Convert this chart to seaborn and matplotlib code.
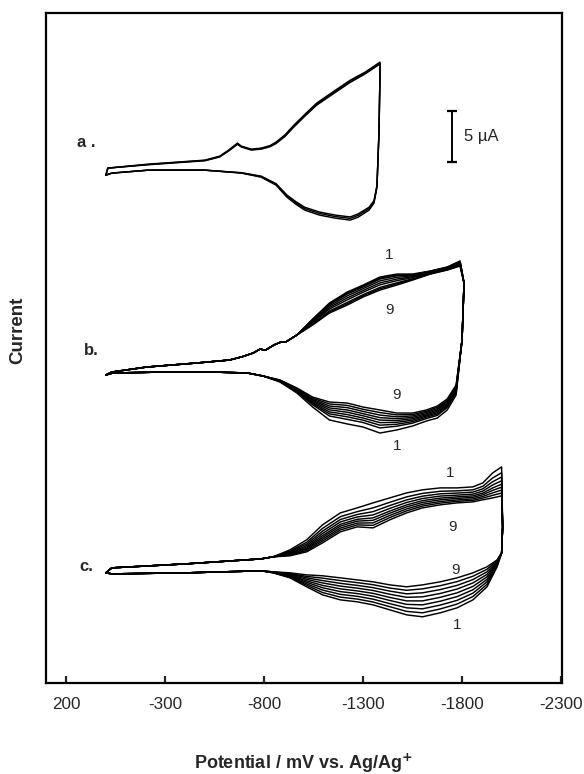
import matplotlib
matplotlib.use("Agg")
import matplotlib.pyplot as plt
import seaborn as sns
import pandas as pd

# ---------------- data (potential in mV, current in uA) ----------------
tick_values = [200, -300, -800, -1300, -1800, -2300]
tick_labels = ["200", "-300", "-800", "-1300", "-1800", "-2300"]

# display offsets of the three voltammograms (uA)
offset_a = 49.8
offset_b = 30.2
offset_c = 10.8

# ---- panel a : 3 cycles, switching at about -1385 mV
a_fwd_E = [0, -10, -215, -500, -575, -620, -665, -685, -735, -785, -830, -860, -905, -950,
           -1005, -1065, -1160, -1235, -1310, -1385]
a_fwd_I = [
    [0, 0.69, 1.08, 1.47, 1.86, 2.45, 3.14, 2.84, 2.55, 2.65, 2.90, 3.24, 3.95, 4.90, 5.95, 7.06, 8.33, 9.31, 10.10, 11.08],
    [0, 0.69, 1.05, 1.44, 1.82, 2.40, 3.08, 2.80, 2.50, 2.60, 2.84, 3.16, 3.86, 4.80, 5.85, 6.95, 8.22, 9.20, 10.00, 10.98],
    [0, 0.69, 1.02, 1.41, 1.78, 2.36, 3.02, 2.76, 2.46, 2.55, 2.79, 3.10, 3.79, 4.72, 5.77, 6.86, 8.12, 9.10, 9.92, 10.90],
]
a_rev_E = [-1385, -1380, -1370, -1355, -1330, -1275, -1235, -1160, -1080, -1005, -960, -915,
           -860, -785, -685, -500, -215, -30, 0]
a_rev_I = [
    [9.61, 4.12, -1.18, -2.75, -3.43, -4.12, -4.41, -4.22, -3.92, -3.43, -2.85, -2.16, -0.98, -0.20, 0.20, 0.49, 0.49, 0.20, 0],
    [9.50, 4.05, -1.10, -2.62, -3.28, -3.95, -4.24, -4.06, -3.76, -3.28, -2.72, -2.05, -0.90, -0.15, 0.22, 0.49, 0.49, 0.20, 0],
    [9.40, 4.00, -1.02, -2.50, -3.15, -3.80, -4.10, -3.92, -3.62, -3.15, -2.60, -1.95, -0.83, -0.10, 0.24, 0.49, 0.49, 0.20, 0],
]

# ---- panel b : 9 cycles, switching at about -1800 mV
b_pre_E = [0, -30, -205, -460, -625, -690, -745, -780, -805, -850, -880, -910]
b_pre_I = [0, 0.29, 0.78, 1.18, 1.47, 1.80, 2.16, 2.55, 2.42, 2.95, 3.20, 3.25]
b_fwd_E = [-965, -1045, -1130, -1220, -1300, -1385, -1470, -1550, -1640, -1725, -1790]
b_fwd_I = [
    [3.92, 5.49, 7.06, 8.14, 8.82, 9.61, 9.90, 9.90, 10.20, 10.59, 11.18],
    [3.92, 5.44, 6.98, 8.04, 8.73, 9.51, 9.81, 9.85, 10.18, 10.57, 11.14],
    [3.92, 5.40, 6.90, 7.94, 8.63, 9.41, 9.73, 9.81, 10.15, 10.54, 11.10],
    [3.92, 5.31, 6.77, 7.76, 8.47, 9.23, 9.58, 9.72, 10.11, 10.50, 11.03],
    [3.92, 5.22, 6.62, 7.56, 8.29, 9.03, 9.41, 9.63, 10.07, 10.46, 10.96],
    [3.92, 5.14, 6.47, 7.37, 8.12, 8.84, 9.25, 9.55, 10.02, 10.41, 10.89],
    [3.92, 5.02, 6.28, 7.12, 7.88, 8.59, 9.04, 9.43, 9.96, 10.35, 10.79],
    [3.92, 4.96, 6.18, 6.99, 7.77, 8.46, 8.93, 9.37, 9.93, 10.32, 10.74],
    [3.92, 4.90, 6.08, 6.86, 7.65, 8.33, 8.82, 9.31, 9.90, 10.29, 10.69],
]
b_turn_E = [-1810, -1800]
b_turn_I = [9.02, 3.43]
b_rev_E = [-1770, -1725, -1675, -1620, -1550, -1470, -1385, -1300, -1220, -1130,
           -1045, -965, -880, -795]
b_rev_I = [
    [-1.96, -3.43, -4.22, -4.51, -5.00, -5.39, -5.69, -5.10, -4.80, -4.41, -3.14, -1.76, -0.69, -0.10],
    [-1.74, -3.19, -3.96, -4.27, -4.72, -5.02, -5.19, -4.66, -4.35, -4.02, -2.92, -1.65, -0.65, -0.10],
    [-1.63, -3.06, -3.82, -4.14, -4.57, -4.83, -4.92, -4.43, -4.10, -3.81, -2.81, -1.59, -0.62, -0.10],
    [-1.52, -2.94, -3.69, -4.02, -4.43, -4.64, -4.67, -4.22, -3.88, -3.62, -2.70, -1.54, -0.60, -0.10],
    [-1.41, -2.83, -3.56, -3.91, -4.29, -4.46, -4.42, -4.00, -3.65, -3.42, -2.59, -1.49, -0.58, -0.10],
    [-1.30, -2.71, -3.43, -3.79, -4.15, -4.28, -4.18, -3.79, -3.43, -3.23, -2.48, -1.43, -0.56, -0.10],
    [-1.20, -2.59, -3.30, -3.67, -4.01, -4.10, -3.93, -3.57, -3.20, -3.04, -2.38, -1.38, -0.53, -0.10],
    [-1.09, -2.47, -3.17, -3.55, -3.87, -3.91, -3.68, -3.36, -2.98, -2.84, -2.27, -1.32, -0.51, -0.10],
    [-0.98, -2.35, -3.04, -3.43, -3.73, -3.73, -3.43, -3.14, -2.75, -2.65, -2.16, -1.27, -0.49, -0.10],
]
b_tail_E = [-715, -540, -290, -35, 0]
b_tail_I = [0.20, 0.29, 0.29, 0.20, 0]

# ---- panel c : 9 cycles, switching at about -2000 mV
c_pre_E = [0, -30, -405, -785, -845]
c_pre_I = [0, 0.49, 0.88, 1.37, 1.57]
c_fwd_E = [-930, -1015, -1095, -1185, -1270, -1350, -1435, -1520, -1600, -1690,
           -1775, -1855, -1905, -1955, -2000]
c_fwd_I = [
    [2.25, 3.24, 4.71, 5.88, 6.37, 6.86, 7.35, 7.84, 8.14, 8.33, 8.33, 8.43, 8.82, 9.80, 10.39],
    [2.13, 3.00, 4.36, 5.51, 6.00, 6.37, 6.92, 7.45, 7.79, 8.00, 8.04, 8.14, 8.49, 9.31, 9.82],
    [2.05, 2.83, 4.09, 5.23, 5.72, 6.00, 6.60, 7.15, 7.52, 7.75, 7.82, 7.92, 8.24, 8.94, 9.40],
    [1.97, 2.67, 3.86, 4.99, 5.48, 5.68, 6.32, 6.90, 7.29, 7.53, 7.62, 7.72, 8.02, 8.62, 9.03],
    [1.90, 2.53, 3.65, 4.76, 5.25, 5.39, 6.06, 6.66, 7.08, 7.33, 7.45, 7.55, 7.82, 8.33, 8.69],
    [1.84, 2.41, 3.47, 4.58, 5.07, 5.15, 5.85, 6.47, 6.90, 7.17, 7.30, 7.40, 7.66, 8.09, 8.40],
    [1.79, 2.30, 3.29, 4.39, 4.88, 4.90, 5.63, 6.27, 6.72, 7.00, 7.15, 7.25, 7.49, 7.84, 8.12],
    [1.73, 2.18, 3.12, 4.21, 4.70, 4.66, 5.42, 6.08, 6.55, 6.84, 7.01, 7.11, 7.33, 7.60, 7.83],
    [1.67, 2.06, 2.94, 4.02, 4.51, 4.41, 5.20, 5.88, 6.37, 6.67, 6.86, 6.96, 7.16, 7.35, 7.55],
]
c_turn_E = [-2005, -2000]
c_turn_I = [4.51, 1.96]
c_rev_E = [-1977, -1926, -1855, -1775, -1690, -1600, -1520, -1435, -1350, -1270,
           -1185, -1095, -1015, -930, -845]
c_rev_I = [
    [0.59, -1.37, -2.65, -3.43, -3.92, -4.31, -4.12, -3.63, -3.14, -2.84, -2.65, -2.16, -1.37, -0.49, 0.00],
    [0.68, -1.13, -2.32, -3.06, -3.54, -3.92, -3.78, -3.32, -2.86, -2.57, -2.38, -1.93, -1.22, -0.43, 0.01],
    [0.76, -0.88, -1.99, -2.70, -3.16, -3.53, -3.43, -3.02, -2.58, -2.30, -2.11, -1.69, -1.08, -0.37, 0.03],
    [0.85, -0.64, -1.66, -2.33, -2.78, -3.14, -3.09, -2.71, -2.29, -2.03, -1.84, -1.46, -0.93, -0.31, 0.04],
    [0.93, -0.39, -1.33, -1.96, -2.40, -2.75, -2.75, -2.41, -2.01, -1.77, -1.57, -1.23, -0.79, -0.25, 0.05],
    [1.02, -0.15, -0.99, -1.59, -2.02, -2.35, -2.40, -2.10, -1.73, -1.50, -1.30, -0.99, -0.64, -0.18, 0.06],
    [1.10, 0.10, -0.66, -1.23, -1.64, -1.96, -2.06, -1.79, -1.45, -1.23, -1.03, -0.76, -0.49, -0.12, 0.08],
    [1.19, 0.35, -0.33, -0.86, -1.26, -1.57, -1.71, -1.49, -1.16, -0.96, -0.76, -0.52, -0.35, -0.06, 0.09],
    [1.27, 0.59, 0.00, -0.49, -0.88, -1.18, -1.37, -1.18, -0.88, -0.69, -0.49, -0.29, -0.20, 0.00, 0.10],
]
c_tail_E = [-785, -405, -30, 0]
c_tail_I = [0.20, 0.00, -0.10, 0]

# ---------------- assemble traces ----------------
rows = []


def add_trace(name, E, I, off):
    for k, (e, i) in enumerate(zip(E, I)):
        rows.append({"trace": name, "order": k, "E": e, "I": i + off})


for k in range(len(a_fwd_I)):
    add_trace(f"a{k+1}", a_fwd_E + a_rev_E, a_fwd_I[k] + a_rev_I[k], offset_a)
for k in range(len(b_fwd_I)):
    add_trace(f"b{k+1}",
              b_pre_E + b_fwd_E + b_turn_E + b_rev_E + b_tail_E,
              b_pre_I + b_fwd_I[k] + b_turn_I + b_rev_I[k] + b_tail_I, offset_b)
for k in range(len(c_fwd_I)):
    add_trace(f"c{k+1}",
              c_pre_E + c_fwd_E + c_turn_E + c_rev_E + c_tail_E,
              c_pre_I + c_fwd_I[k] + c_turn_I + c_rev_I[k] + c_tail_I, offset_c)

df = pd.DataFrame(rows)

# ---------------- plot ----------------
sns.set_style("white")
FONT = ["Liberation Sans", "DejaVu Sans"]
plt.rcParams["font.family"] = FONT

fig = plt.figure(figsize=(5.84, 7.74), dpi=100)
ax = fig.add_axes([0.0796, 0.1176, 0.8827, 0.8656])

sns.lineplot(data=df, x="E", y="I", units="trace", estimator=None, sort=False,
             color="black", linewidth=1.05, legend=False, ax=ax)

ax.set_xlim(300, -2305)
ax.set_ylim(0, 65.7)
ax.set_xticks(tick_values)
ax.set_xticklabels(tick_labels, fontsize=12.3)
ax.set_yticks([])
ax.tick_params(axis="x", direction="in", length=5, width=1.6, pad=10, bottom=True)
for s in ax.spines.values():
    s.set_visible(True)
    s.set_linewidth(1.6)
    s.set_color("black")
ax.set_xlabel("")
ax.set_ylabel("")

# scale bar 5 uA
bar_E = -1749
bar_lo, bar_hi = 51.1, 56.1
ax.plot([bar_E, bar_E], [bar_lo, bar_hi], color="black", lw=1.4)
ax.plot([bar_E, bar_E], [bar_lo, bar_hi], ls="none", marker="_", ms=7, mew=1.6, color="black")
ax.text(-1810, 53.6, "5 µA", fontsize=12, va="center", ha="left")

# panel labels
ax.text(101, 53.0, "a .", fontsize=12, fontweight="bold", va="center", ha="center")
ax.text(76, 32.65, "b.", fontsize=12, fontweight="bold", va="center", ha="center")
ax.text(101, 11.47, "c.", fontsize=12, fontweight="bold", va="center", ha="center")

# cycle labels
for E, y, t in [(-1431, 41.96, "1"), (-1431, 36.57, "9"), (-1471, 28.24, "9"), (-1471, 23.24, "1"),
                (-1739, 20.59, "1"), (-1754, 15.29, "9"), (-1769, 11.08, "9"), (-1774, 5.69, "1")]:
    ax.text(E, y, t, fontsize=11, va="center", ha="center")

fig.text(18 / 584, 1 - 330 / 774, "Current", rotation=90, fontsize=13.5, fontweight="bold",
         va="center", ha="center")
fig.text(303 / 584, 1 - 763 / 774, "Potential / mV vs. Ag/Ag$^{\\mathbf{+}}$", fontsize=13,
         fontweight="bold", va="center", ha="center")

fig.savefig("out.png", dpi=100)
